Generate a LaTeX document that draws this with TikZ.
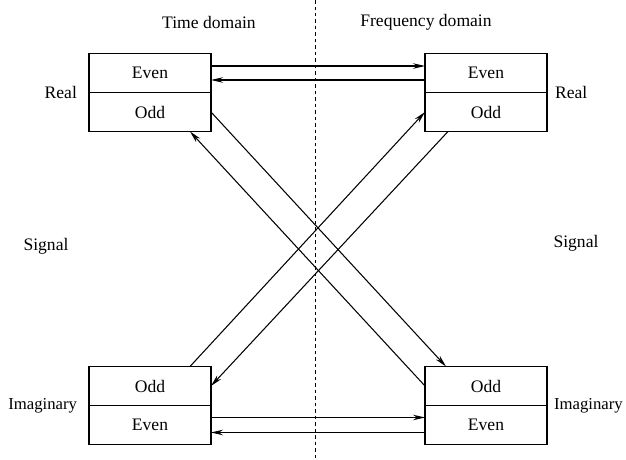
\documentclass[tikz,border=0pt]{standalone}
\usepackage{fontspec}
\setmainfont{Liberation Serif}
\usetikzlibrary{arrows.meta,positioning}

\begin{document}
\begin{tikzpicture}[
  x=0.02cm, y=-0.02cm,
  font=\normalsize,
  >={Stealth[length=2.4mm, width=1.1mm]},
  half/.style={draw, line width=0.8pt, minimum width=2.44cm, minimum height=0.78cm, inner sep=0pt, outer sep=0pt},
  lab/.style={inner sep=1pt},
  imag/.style={lab, font=\fontsize{9.5}{11}\selectfont},
  flow/.style={->, line width=0.6pt},
]
\useasboundingbox (0,0) rectangle (626,460);

% domain divider
\coordinate (divtop) at (315,0);
\coordinate (divbot) at (315,460);
\draw[dash pattern=on 0.07cm off 0.06cm, line width=0.5pt] (divtop) -- (divbot);
\node[lab] (timehead) at (209,22) {Time domain};
\node[lab] (freqhead) at (426,22) {Frequency domain};

% real parts (top row)
\node[half] (tlEven) at (150,73) {Even};
\node[half, below=0pt of tlEven] (tlOdd) {Odd};
\node[half] (trEven) at (486,73) {Even};
\node[half, below=0pt of trEven] (trOdd) {Odd};
\node[lab, left=0.2cm of tlEven.south west, anchor=east] (treal) {Real};
\node[lab, right=0.12cm of trEven.south east, anchor=west] (freal) {Real};

% imaginary parts (bottom row)
\node[half] (blOdd) at (150,386) {Odd};
\node[half, below=0pt of blOdd] (blEven) {Even};
\node[half] (brOdd) at (486,386) {Odd};
\node[half, below=0pt of brOdd] (brEven) {Even};
\node[imag, left=0.2cm of blOdd.south west, anchor=east] (timag) {Imaginary};
\node[imag, right=0.1cm of brOdd.south east, anchor=west] (fimag) {Imaginary};

\node[lab] (tsig) at (46,246) {Signal};
\node[lab] (fsig) at (576,243) {Signal};

% even <-> even
\draw[flow] ([yshift=0.14cm]tlEven.east) -- ([yshift=0.14cm]tlEven.east -| trEven.west);
\draw[flow] ([yshift=-0.14cm]trEven.west) -- ([yshift=-0.14cm]trEven.west -| tlEven.east);
\draw[flow] ([yshift=0.15cm]blEven.east) -- ([yshift=0.15cm]blEven.east -| brEven.west);
\draw[flow] ([yshift=-0.15cm]brEven.west) -- ([yshift=-0.15cm]brEven.west -| blEven.east);

% odd <-> odd, crossing real and imaginary
\draw[flow] (tlOdd.east) -- ([xshift=-0.8cm]brOdd.north);
\draw[flow] (brOdd.west) -- ([xshift=0.8cm]tlOdd.south);
\draw[flow] ([xshift=0.8cm]blOdd.north) -- (trOdd.west);
\draw[flow] ([xshift=-0.76cm]trOdd.south) -- (blOdd.east);
\end{tikzpicture}
\end{document}
